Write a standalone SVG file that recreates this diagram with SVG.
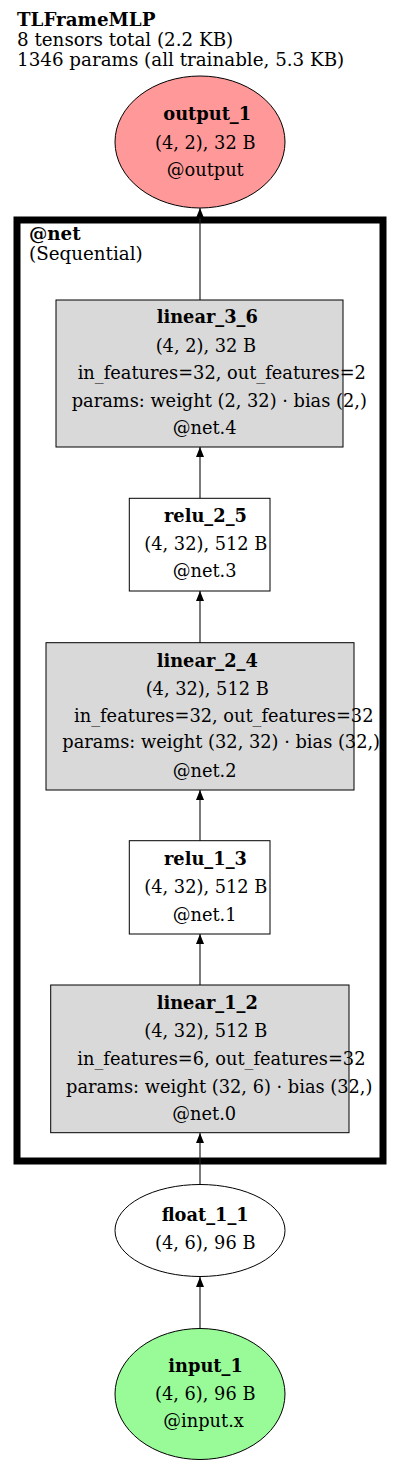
<svg xmlns="http://www.w3.org/2000/svg" width="400" height="1466" viewBox="0 0 400 1466">
<defs>
<marker id="arr" viewBox="0 0 10 8" refX="10" refY="4" markerWidth="10" markerHeight="8" markerUnits="userSpaceOnUse" orient="auto">
<path d="M0,0 L10,4 L0,8 Z" fill="#000"/>
</marker>
<style>
text{font-family:"DejaVu Serif","Liberation Serif",serif;font-size:17.8px;fill:#000}
.b{font-weight:bold}
.t{font-size:18.3px}
.box{stroke:#000;stroke-width:1}
.lin{fill:#d9d9d9}
.wh{fill:#fff}
.edge{stroke:#222;stroke-width:1.2;fill:none;marker-end:url(#arr)}
</style>
</defs>
<rect width="400" height="1466" fill="#fff"/>
<g id="title">
<text x="17" y="26" class="t b">TLFrameMLP</text>
<text x="17" y="45.5" class="t">8 tensors total (2.2 KB)</text>
<text x="17" y="65.5" class="t">1346 params (all trainable, 5.3 KB)</text>
</g>
<g id="cluster_net">
<rect x="17" y="220" width="366" height="941" fill="none" stroke="#000" stroke-width="7"/>
<text x="29" y="240" class="b t">@net</text>
<text x="29" y="260" class="t">(Sequential)</text>
</g>
<g id="edges">
<line x1="200" y1="1328" x2="200" y2="1277" class="edge"/>
<line x1="200" y1="1184" x2="200" y2="1133" class="edge"/>
<line x1="200" y1="985" x2="200" y2="934" class="edge"/>
<line x1="200" y1="841" x2="200" y2="790" class="edge"/>
<line x1="200" y1="643" x2="200" y2="591" class="edge"/>
<line x1="200" y1="498" x2="200" y2="447" class="edge"/>
<line x1="200" y1="300" x2="200" y2="208" class="edge"/>
</g>
<g id="output_1">
<ellipse cx="200" cy="142" rx="85" ry="66" fill="#ff9999" class="box"/>
<text x="163.3" y="120" class="b">output_1</text>
<text x="155" y="149">(4, 2), 32 B</text>
<text x="166.7" y="176">@output</text>
</g>
<g id="linear_3_6">
<rect x="56" y="300" width="287" height="147" class="box lin"/>
<text x="156.7" y="323" class="b">linear_3_6</text>
<text x="155.7" y="352">(4, 2), 32 B</text>
<text x="77.7" y="379">in_features=32, out_features=2</text>
<text x="71.7" y="407">params: weight (2, 32) · bias (2,)</text>
<text x="172.7" y="434">@net.4</text>
</g>
<g id="relu_2_5">
<rect x="129.3" y="498.3" width="140.7" height="92.7" class="box wh"/>
<text x="164" y="521.7" class="b">relu_2_5</text>
<text x="144.3" y="550">(4, 32), 512 B</text>
<text x="172.7" y="577.3">@net.3</text>
</g>
<g id="linear_2_4">
<rect x="46" y="642.7" width="308" height="147.3" class="box lin"/>
<text x="156.7" y="666.7" class="b">linear_2_4</text>
<text x="145.7" y="695">(4, 32), 512 B</text>
<text x="74" y="721.7">in_features=32, out_features=32</text>
<text x="62.3" y="748.3">params: weight (32, 32) · bias (32,)</text>
<text x="172.7" y="776.7">@net.2</text>
</g>
<g id="relu_1_3">
<rect x="129.3" y="840.7" width="140.7" height="93.3" class="box wh"/>
<text x="164" y="865" class="b">relu_1_3</text>
<text x="144.3" y="893.3">(4, 32), 512 B</text>
<text x="172.7" y="920.7">@net.1</text>
</g>
<g id="linear_1_2">
<rect x="50.7" y="985" width="298.3" height="147.7" class="box lin"/>
<text x="156.7" y="1009.3" class="b">linear_1_2</text>
<text x="144.3" y="1037.3">(4, 32), 512 B</text>
<text x="77.3" y="1065">in_features=6, out_features=32</text>
<text x="66" y="1092.7">params: weight (32, 6) · bias (32,)</text>
<text x="172.3" y="1120">@net.0</text>
</g>
<g id="float_1_1">
<ellipse cx="200" cy="1230.5" rx="85" ry="46" class="box wh"/>
<text x="161.7" y="1220.7" class="b">float_1_1</text>
<text x="155" y="1249.3">(4, 6), 96 B</text>
</g>
<g id="input_1">
<ellipse cx="200" cy="1394" rx="85" ry="65.5" fill="#98fb98" class="box"/>
<text x="168.3" y="1371.7" class="b">input_1</text>
<text x="155" y="1400">(4, 6), 96 B</text>
<text x="163.3" y="1426.7">@input.x</text>
</g>
</svg>
